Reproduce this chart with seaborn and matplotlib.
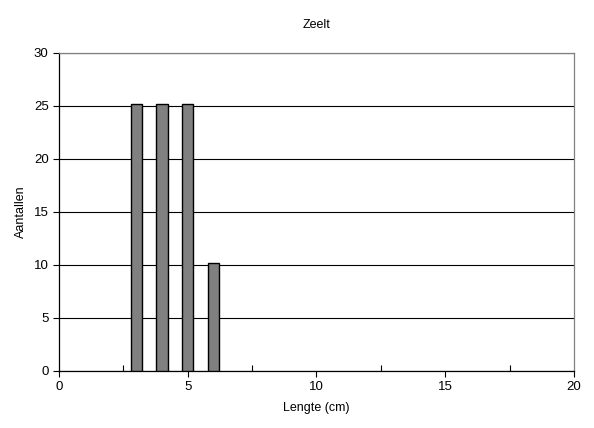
import matplotlib
matplotlib.use('Agg')
import matplotlib.pyplot as plt
import seaborn as sns
import pandas as pd
from matplotlib.ticker import MultipleLocator

sns.set_style('white')
plt.rcParams['font.family'] = ['Liberation Sans', 'DejaVu Sans']
plt.rcParams['text.color'] = 'black'
plt.rcParams['axes.labelcolor'] = 'black'
plt.rcParams['xtick.color'] = 'black'
plt.rcParams['ytick.color'] = 'black'

lengte = [3, 4, 5, 6]
aantallen = [25.2, 25.2, 25.2, 10.2]
df = pd.DataFrame({'Lengte': lengte, 'Aantallen': aantallen})

fig = plt.figure(figsize=(5.94, 4.28), dpi=100)
ax = fig.add_axes([0.0993, 0.1332, 0.8670, 0.7430])

sns.barplot(data=df, x='Lengte', y='Aantallen', native_scale=True, width=0.43,
            color='#808080', edgecolor='black', linewidth=1, saturation=1, ax=ax, zorder=3)

ax.set_xlim(0, 20)
ax.set_ylim(0, 30)
ax.xaxis.set_major_locator(MultipleLocator(5))
ax.xaxis.set_minor_locator(MultipleLocator(2.5))
ax.yaxis.set_major_locator(MultipleLocator(5))
ax.tick_params(axis='x', which='major', bottom=True, direction='out', length=4, width=0.8, labelsize=9.5, pad=3)
ax.tick_params(axis='x', which='minor', bottom=True, direction='in', length=4, width=0.8)
ax.tick_params(axis='y', which='major', left=True, direction='out', length=4, width=0.8, labelsize=9.5)
ax.yaxis.grid(True, color='black', linewidth=0.8)
ax.set_axisbelow(True)

for side in ['top', 'right']:
    ax.spines[side].set_color('#808080')
for side in ['left', 'bottom']:
    ax.spines[side].set_color('black')
for s in ax.spines.values():
    s.set_linewidth(0.9)

ax.set_xlabel('Lengte (cm)', fontsize=9, labelpad=7)
ax.set_ylabel('Aantallen', fontsize=9, labelpad=5)
ax.set_title('Zeelt', fontsize=9, pad=18)

fig.savefig('out.png', dpi=100)
